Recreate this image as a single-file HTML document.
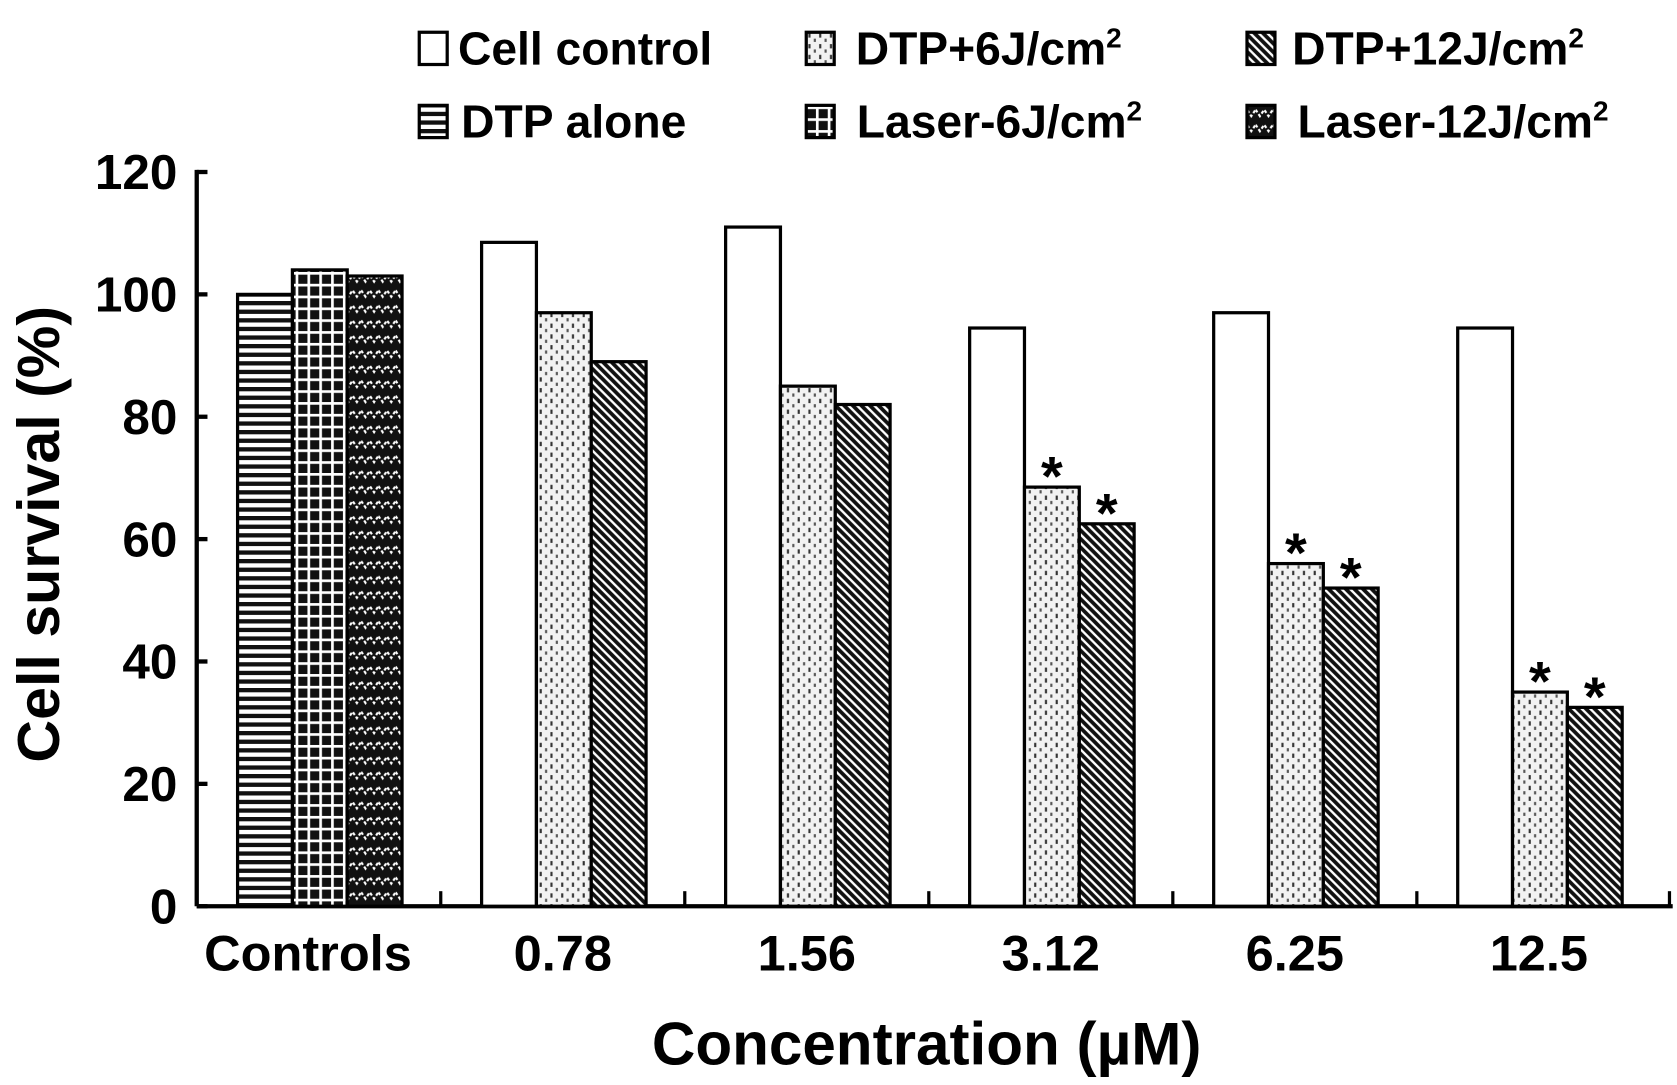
<!DOCTYPE html>
<html><head><meta charset="utf-8"><style>
html,body{margin:0;padding:0;background:#fff;}
svg{display:block;}
text{font-family:"Liberation Sans Narrow","Liberation Sans",sans-serif;font-weight:bold;fill:#000;}
</style></head><body>
<svg id="chart" width="1677" height="1085" viewBox="0 0 1560 1009.3" xmlns="http://www.w3.org/2000/svg">
<defs>
<pattern id="p-hlines" width="8" height="8" patternUnits="userSpaceOnUse"><rect width="8" height="8" fill="#fff"/><rect y="0" width="8" height="4" fill="#111"/></pattern>
<pattern id="p-grid" width="11" height="11" patternUnits="userSpaceOnUse"><rect width="11" height="11" fill="#111"/><rect x="0" y="0" width="11" height="2.5" fill="#fff"/><rect x="0" y="0" width="2.5" height="11" fill="#fff"/></pattern>
<pattern id="p-zig" width="16" height="14" patternUnits="userSpaceOnUse"><rect width="16" height="14" fill="#111"/><path d="M0 4 L4 10 L8 4 L12 10 L16 4" stroke="#fff" stroke-width="2" fill="none" stroke-dasharray="3 2"/></pattern>
<pattern id="p-dots" width="10" height="10" patternUnits="userSpaceOnUse"><rect width="10" height="10" fill="#f2f2f2"/><rect x="2" y="1" width="2" height="4" fill="#333"/><rect x="7" y="6" width="2" height="3" fill="#555"/></pattern>
<pattern id="p-diag" width="8" height="8" patternUnits="userSpaceOnUse"><rect width="8" height="8" fill="#fff"/><path d="M-2 -2 L10 10 M-2 6 L2 10 M6 -2 L10 2" stroke="#111" stroke-width="3.5"/></pattern>
</defs>
<g id="legend"></g>
<g id="axes"></g>
<g id="bars"></g>
</svg>
<script>
const categories = ["Controls","0.78","1.56","3.12","6.25","12.5"];
const seriesNames = ["Cell control","DTP+6J/cm²","DTP+12J/cm²","DTP alone","Laser-6J/cm²","Laser-12J/cm²"];
const controlValues = [100, 104, 103];
const cellControl = [null, 108.5, 111, 94.5, 97, 94.5];
const dtp6 = [null, 97, 85, 68.5, 56, 35];
const dtp12 = [null, 89, 82, 62.5, 52, 32.5];
const sig6 = [false, false, false, true, true, true];
const sig12 = [false, false, false, true, true, true];
const yTicks = [0, 20, 40, 60, 80, 100, 120];

const NS = "http://www.w3.org/2000/svg";
const X0 = 183, XEND = 1556, Y0 = 843, YTOP = 160, GW = 227, BW = 51, OFF = 38;
function y(v){ return Y0 - (v / 120) * (Y0 - YTOP); }
function gx(i){ return X0 + i * GW; }
function el(tag, attrs, parent, txt){ const e = document.createElementNS(NS, tag); for (const k in attrs) e.setAttribute(k, attrs[k]); if (txt !== undefined) e.textContent = txt; parent.appendChild(e); return e; }

const axes = document.getElementById('axes');
const bars = document.getElementById('bars');
const legend = document.getElementById('legend');

const yAxis = el('line', {x1:X0, y1:YTOP-2, x2:X0, y2:Y0, stroke:'#000', 'stroke-width':4}, axes);


const xAxis = el('line', {x1:X0, y1:Y0, x2:XEND, y2:Y0, stroke:'#000', 'stroke-width':4}, axes);


yTicks.forEach(t => {
  el('line', {x1:X0, y1:y(t), x2:X0+10, y2:y(t), stroke:'#000', 'stroke-width':4}, axes);
  const lb = el('text', {x:165, y:y(t)+16, 'text-anchor':'end', 'font-size':46}, axes, String(t));
  
  
});
for (let i = 1; i <= categories.length; i++) {
  const tx = i === categories.length ? XEND - 3 : gx(i);
  el('line', {x1:tx, y1:Y0, x2:tx, y2:Y0-14, stroke:'#000', 'stroke-width':3}, axes);
}
categories.forEach((c, i) => {
  const lb = el('text', {x:gx(i)+GW/2-(i===0?10:0), y:903, 'text-anchor':'middle', 'font-size':47}, axes, c);
  
  
});
const yt = el('text', {x:0, y:0, 'text-anchor':'middle', 'font-size':55, transform:'translate(55,497) rotate(-90)'}, axes, 'Cell survival (%)');


const xt = el('text', {x:862, y:990, 'text-anchor':'middle', 'font-size':56}, axes, 'Concentration (µM)');



function bar(i, slot, v, fill, name){
  const x = gx(i) + OFF + slot * BW;
  const r = el('rect', {x:x, y:y(v), width:BW, height:Y0 - y(v), fill:fill, stroke:'#000', 'stroke-width':3}, bars);
  
  
  return x;
}
function star(x, v){
  const s = el('text', {x:x+BW/2, y:y(v)+8, 'text-anchor':'middle', 'font-size':52}, bars, '*');
  
  
}
const ctrlFills = ['url(#p-hlines)', 'url(#p-grid)', 'url(#p-zig)'];
const ctrlNames = ['bar-dtp-alone', 'bar-laser-6j', 'bar-laser-12j'];
controlValues.forEach((v, k) => bar(0, k, v, ctrlFills[k], ctrlNames[k]));
for (let i = 1; i < categories.length; i++) {
  bar(i, 0, cellControl[i], '#fff', 'bar-cell-control');
  const a = bar(i, 1, dtp6[i], 'url(#p-dots)', 'bar-dtp-6j');
  const b = bar(i, 2, dtp12[i], 'url(#p-diag)', 'bar-dtp-12j');
  if (sig6[i]) star(a, dtp6[i]);
  if (sig12[i]) star(b, dtp12[i]);
}

const legFills = ['#fff', 'url(#p-dots)', 'url(#p-diag)', 'url(#p-hlines)', 'url(#p-grid)', 'url(#p-zig)'];
const legX = [390, 750, 1160, 390, 750, 1160];
const legY = [45, 45, 45, 113, 113, 113];
const legTX = [426, 796, 1202, 429, 797, 1207];
seriesNames.forEach((n, k) => {
  const g = el('g', {}, legend);
  
  
  el('rect', {x:legX[k], y:legY[k]-15, width:26, height:30, fill:legFills[k], stroke:'#000', 'stroke-width':3}, g);
  const parts = n.split('²');
  const t = el('text', {x:legTX[k], y:legY[k]+15, 'font-size':43}, g, parts[0]);
  if (parts.length > 1) { el('tspan', {'font-size':26, dy:-16}, t, '2'); }
});
</script>
</body></html>
